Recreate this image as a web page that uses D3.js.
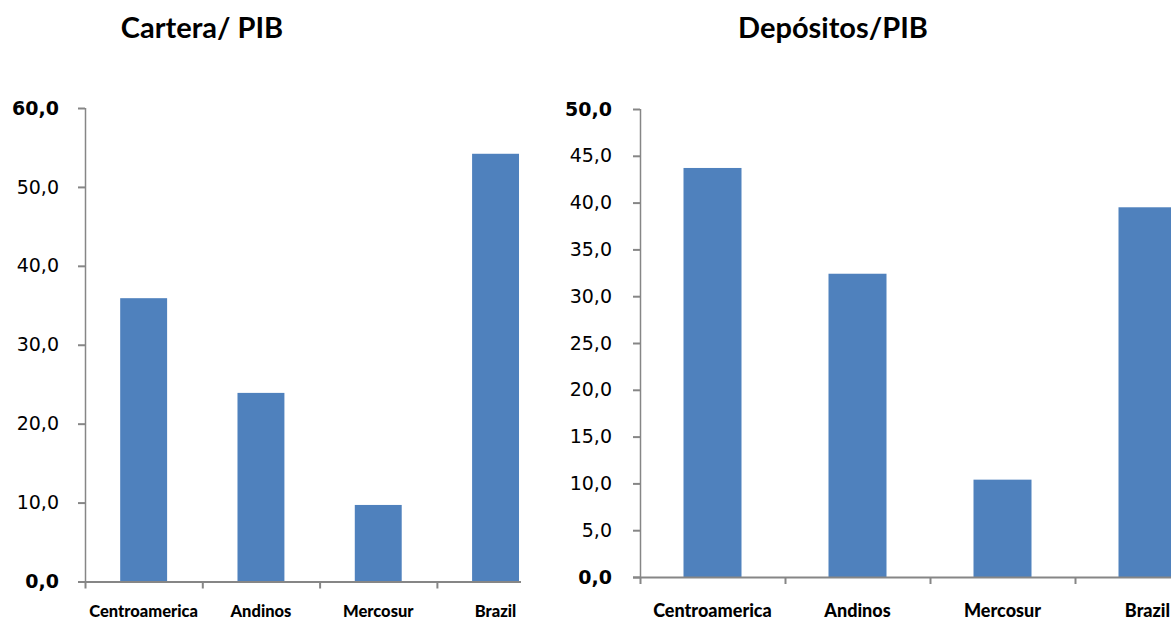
<!DOCTYPE html>
<html>
<head>
<meta charset="utf-8">
<script src="https://cdn.jsdelivr.net/npm/d3@7"></script>
<style>
  html, body { margin: 0; padding: 0; background: #fff; }
  svg { display: block; }
</style>
</head>
<body>
<svg id="chart" width="1171" height="622"></svg>
<script>
// Regional aggregates, % of GDP
const categories = ["Centroamerica", "Andinos", "Mercosur", "Brazil"];
const carteraValues = [35.9, 23.9, 9.7, 54.2];
const depositosValues = [43.7, 32.4, 10.4, 39.5];
const carteraTicks = [0, 10, 20, 30, 40, 50, 60];
const depositosTicks = [0, 5, 10, 15, 20, 25, 30, 35, 40, 45, 50];

const BAR = "#4F81BD";
const AXIS = "#868686";
const fmt = v => d3.format(".1f")(v).replace(".", ",");

const svg = d3.select("#chart");

function panel(cfg) {
  const g = svg.append("g");
  if (cfg.clip) {
    svg.append("clipPath").attr("id", cfg.id + "-clip")
      .append("rect").attr("x", 0).attr("y", 0)
      .attr("width", cfg.clip).attr("height", 622);
    g.attr("clip-path", `url(#${cfg.id}-clip)`);
  }

  const x = d3.scaleBand().domain(cfg.categories)
    .range([cfg.x0, cfg.x0 + cfg.step * cfg.categories.length])
    .paddingInner(0.6).paddingOuter(0.3);
  const y = d3.scaleLinear().domain([0, d3.max(cfg.ticks)]).range([cfg.y0, cfg.y1]);

  // bars
  g.selectAll("rect.bar").data(cfg.values).join("rect")
    .attr("class", "bar")
    .attr("x", (d, i) => x(cfg.categories[i]))
    .attr("width", x.bandwidth())
    .attr("y", d => y(d))
    .attr("height", d => y(0) - y(d))
    .attr("fill", BAR);

  // y axis
  const yAxis = d3.axisLeft(y).tickValues(cfg.ticks).tickSize(7)
    .tickPadding(cfg.tickPad).tickFormat(fmt);
  const ya = g.append("g").attr("transform", `translate(${cfg.x0},0)`).call(yAxis);
  ya.select(".domain").attr("stroke", AXIS).attr("stroke-width", 1.5)
    .attr("d", `M0.5,${y.range()[1]}V${y.range()[0]}`);
  ya.selectAll(".tick line").attr("stroke", AXIS).attr("stroke-width", 2);
  ya.selectAll(".tick text")
    .attr("fill", "#000")
    .style("font-family", "'DejaVu Sans', sans-serif")
    .style("font-size", "19px")
    .style("font-weight", (d, i, n) => (i === 0 || i === n.length - 1) ? "bold" : "normal");

  // x axis line with category boundary ticks
  const [xa0, xa1] = x.range();
  g.append("line")
    .attr("x1", cfg.x0 - 7).attr("x2", xa1)
    .attr("y1", y(0) + 0.5).attr("y2", y(0) + 0.5)
    .attr("stroke", AXIS).attr("stroke-width", 2);
  const bounds = d3.range(cfg.categories.length + 1).map(i => xa0 + i * x.step());
  g.selectAll("line.xt").data(bounds).join("line")
    .attr("class", "xt")
    .attr("x1", d => d + 0.5).attr("x2", d => d + 0.5)
    .attr("y1", y(0)).attr("y2", y(0) + 7)
    .attr("stroke", AXIS).attr("stroke-width", 2);

  // category labels
  g.selectAll("text.cat").data(cfg.categories).join("text")
    .attr("class", "cat")
    .attr("x", d => x(d) + x.bandwidth() / 2)
    .attr("y", cfg.labelY)
    .attr("text-anchor", "middle")
    .style("font-family", "Lato, sans-serif")
    .style("font-weight", "900")
    .style("font-size", cfg.labelSize + "px")
    .text(d => d);

  // title
  svg.append("text")
    .attr("x", cfg.titleX).attr("y", 38)
    .attr("text-anchor", "middle")
    .style("font-family", "Lato, sans-serif")
    .style("font-weight", "bold")
    .style("font-size", "29px")
    .text(cfg.title);
}

panel({
  id: "cartera", title: "Cartera/ PIB", titleX: 202,
  categories, values: carteraValues, ticks: carteraTicks,
  x0: 85, step: 117.3, y0: 581.5, y1: 108, tickPad: 19,
  labelY: 617, labelSize: 16.5, clip: 521
});

panel({
  id: "depositos", title: "Depósitos/PIB", titleX: 833,
  categories, values: depositosValues, ticks: depositosTicks,
  x0: 640, step: 145, y0: 577, y1: 109, tickPad: 21,
  labelY: 617, labelSize: 18
});
</script>
</body>
</html>
